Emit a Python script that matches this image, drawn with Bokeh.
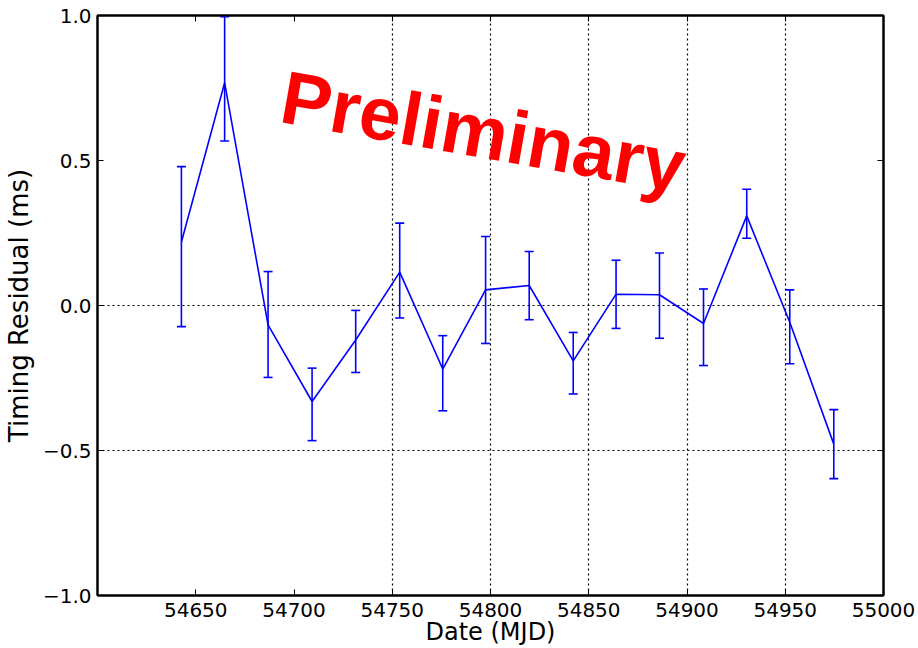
from bokeh.plotting import figure
from bokeh.models import (ColumnDataSource, Whisker, TeeHead, FixedTicker, LinearAxis,
                          Label, Range1d)
from bokeh.embed import file_html
from bokeh.resources import INLINE

# ---------------- data ----------------
mjd = [54642.7, 54664.7, 54686.8, 54709.2, 54731.4, 54753.8, 54775.7, 54797.5,
       54819.7, 54842.1, 54863.9, 54886.0, 54908.4, 54930.4, 54952.3, 54974.7]
residual = [0.219, 0.768, -0.067, -0.331, -0.119, 0.115, -0.219, 0.054,
            0.069, -0.191, 0.039, 0.037, -0.062, 0.309, -0.058, -0.478]
upper = [0.479, 0.996, 0.117, -0.216, -0.017, 0.284, -0.104, 0.238,
         0.186, -0.093, 0.156, 0.181, 0.057, 0.401, 0.054, -0.359]
lower = [-0.073, 0.567, -0.248, -0.466, -0.231, -0.043, -0.363, -0.131,
         -0.049, -0.305, -0.079, -0.113, -0.207, 0.232, -0.201, -0.597]

x_ticks = [54650, 54700, 54750, 54800, 54850, 54900, 54950, 55000]
y_ticks = [-1.0, -0.5, 0.0, 0.5, 1.0]
y_tick_labels = {-1.0: "\u22121.0", -0.5: "\u22120.5", 0.0: "0.0", 0.5: "0.5", 1.0: "1.0"}
x_grid_ticks = [54750, 54800, 54850, 54900, 54950]
y_grid_ticks = [-0.5, 0.0]

x_title = "Date (MJD)"
y_title = "Timing Residual (ms)"
watermark = "Preliminary"
watermark_x, watermark_y = 54694, 0.722

src = ColumnDataSource(dict(mjd=mjd, residual=residual, upper=upper, lower=lower))

p = figure(width=918, height=648, output_backend="svg", toolbar_location=None,
           x_range=Range1d(54600, 55000), y_range=Range1d(-1.0, 1.0),
           min_border_left=97, min_border_right=35, min_border_top=15, min_border_bottom=51)
p.background_fill_color = "white"
p.border_fill_color = "white"
p.outline_line_color = "black"
p.outline_line_width = 2

BLUE = "#0000ff"
p.line("mjd", "residual", source=src, line_color=BLUE, line_width=1.6)
wh = Whisker(base="mjd", upper="upper", lower="lower", source=src,
             line_color=BLUE, line_width=1.6,
             upper_head=TeeHead(size=9, line_color=BLUE, line_width=1.6),
             lower_head=TeeHead(size=9, line_color=BLUE, line_width=1.6))
p.add_layout(wh)

# axes
for ax in (p.xaxis[0], p.yaxis[0]):
    ax.major_tick_in = 6
    ax.major_tick_out = 0
    ax.minor_tick_line_color = None
    ax.axis_line_width = 2
    ax.axis_line_color = "black"
    ax.major_tick_line_color = "black"
    ax.major_tick_line_width = 1
    ax.major_label_text_font = "DejaVu Sans"
    ax.major_label_text_font_size = "20px"
    ax.major_label_text_color = "black"
    ax.axis_label_text_font = "DejaVu Sans"
    ax.axis_label_text_font_style = "normal"
    ax.axis_label_text_color = "black"

p.xaxis.ticker = FixedTicker(ticks=x_ticks)
p.yaxis.ticker = FixedTicker(ticks=y_ticks)
p.yaxis.major_label_overrides = y_tick_labels
p.xaxis.axis_label = x_title
p.yaxis.axis_label = y_title
p.xaxis.axis_label_text_font_size = "24px"
p.yaxis.axis_label_text_font_size = "26px"
p.xaxis.major_label_standoff = 7
p.xaxis.axis_label_standoff = -2
p.yaxis.major_label_standoff = 6
p.yaxis.axis_label_standoff = 6

# inward ticks on the right and top edges (labels blank)
right_ax = LinearAxis(ticker=FixedTicker(ticks=y_ticks))
right_ax.major_label_overrides = {t: " " for t in y_ticks}
right_ax.major_label_standoff = 0
top_ax = LinearAxis(ticker=FixedTicker(ticks=x_ticks))
top_ax.major_label_overrides = {t: " " for t in x_ticks}
top_ax.major_label_text_font_size = "4px"
top_ax.major_label_standoff = 0
for ax in (right_ax, top_ax):
    ax.major_tick_in = 6
    ax.major_tick_out = 0
    ax.minor_tick_line_color = None
    ax.axis_line_width = 2
p.add_layout(right_ax, "right")
p.add_layout(top_ax, "above")

# grids
p.xgrid.ticker = FixedTicker(ticks=x_grid_ticks)
p.ygrid.ticker = FixedTicker(ticks=y_grid_ticks)
for g in (p.xgrid[0], p.ygrid[0]):
    g.grid_line_color = "black"
    g.grid_line_width = 1.2
    g.grid_line_dash = "2 3"
    g.grid_line_alpha = 1.0

lab = Label(x=watermark_x, y=watermark_y, text=watermark, angle=-10, angle_units="deg",
            text_font="Liberation Sans", text_font_style="bold", text_font_size="75px",
            text_color="#ff0000", text_align="left", text_baseline="alphabetic")
p.add_layout(lab)

open("out.html", "w").write(file_html(p, INLINE))
